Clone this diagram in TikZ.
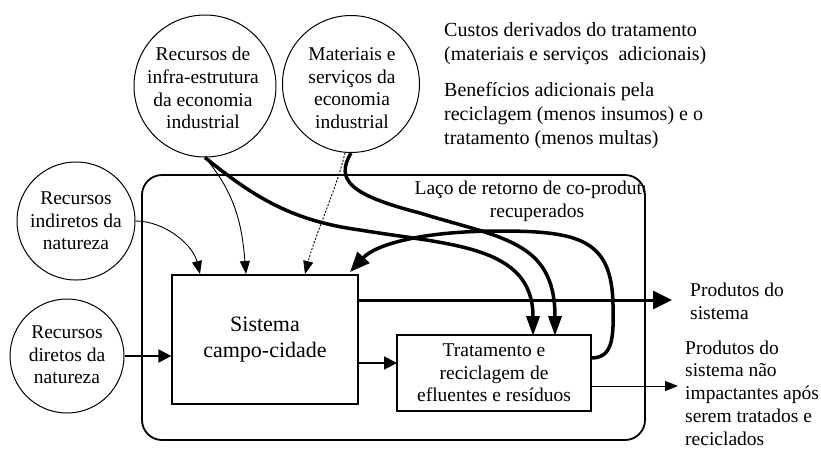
\documentclass[tikz,border=0pt]{standalone}
\usepackage{fontspec}
\setmainfont{Liberation Serif}
\usetikzlibrary{arrows.meta}
\begin{document}
\begin{tikzpicture}[x=1pt,y=-1pt,
  txt/.style={font=\fontsize{19.5}{22.7}\selectfont, inner sep=0pt, align=center},
  ltxt/.style={font=\fontsize{19.5}{22.7}\selectfont, inner sep=0pt, align=left, anchor=west},
  rtxt/.style={font=\fontsize{20}{24}\selectfont, inner sep=0pt, align=left, anchor=west},
  res/.style={draw, circle, line width=1pt, inner sep=0pt},
  box/.style={draw, line width=1.2pt, inner sep=0pt, align=center},
  thickflow/.style={line width=3.5pt, -{Triangle[length=20pt,width=13pt]}},
  loopflow/.style={line width=3.5pt, -{Triangle[length=20pt,width=16pt]}},
  prodflow/.style={line width=3pt, -{Triangle[length=19pt,width=18pt]}},
  medflow/.style={line width=2pt, -{Triangle[length=13pt,width=13pt]}},
  thinflow/.style={line width=0.9pt, -{Triangle[length=13pt,width=10pt]}},
  dotflow/.style={line width=0.9pt, dash pattern=on 2pt off 1.6pt, -{Triangle[length=13pt,width=10pt]}},
]
\useasboundingbox (0,0) rectangle (821,453);

% outer system boundary
\node[draw, rounded corners=20pt, line width=1.8pt, minimum width=503pt, minimum height=265pt, inner sep=0pt] (bound) at (393.5,307.5) {};

% boxes
\node[box, minimum width=186pt, minimum height=129pt, font=\fontsize{22}{26}\selectfont] (sc) at (265,339.5) {Sistema\\campo-cidade};
\node[box, minimum width=194pt, minimum height=76pt, font=\fontsize{19.5}{22.5}\selectfont] (trat) at (494,373) {Tratamento e\\reciclagem de\\efluentes e resíduos};

% resource circles
\node[res, minimum size=142pt] (infra) at (205,86) {};
\node[txt] (infraT) at (203,88) {Recursos de\\infra-estrutura\\da economia\\industrial};
\node[res, minimum size=137pt] (mat) at (351,84) {};
\node[txt] (matT) at (352,88) {Materiais e\\serviços da\\economia\\industrial};
\node[res, minimum size=118pt] (ind) at (76,221) {};
\node[txt] (indT) at (76,221) {Recursos\\indiretos da\\natureza};
\node[res, minimum size=114pt] (dir) at (67,356) {};
\node[txt] (dirT) at (67,355) {Recursos\\diretos da\\natureza};

% texts
\begin{scope}
\clip (0,0) rectangle (644,453);
\node[txt] (laco) at (537,201.5) {Laço de retorno de co-produtos\\recuperados};
\end{scope}
\node[rtxt] (custos) at (444,43.5) {Custos derivados do tratamento\\(materiais e serviços\ \ adicionais)};
\node[rtxt] (benef) at (444,115.5) {Benefícios adicionais pela\\reciclagem (menos insumos) e o\\tratamento (menos multas)};
\node[ltxt] (prod1) at (690,301.5) {Produtos do\\sistema};
\node[ltxt] (prod2) at (685,393) {Produtos do\\sistema não\\impactantes após\\serem tratados e\\reciclados};

% connector end points
\coordinate (a1) at (200,274);
\coordinate (a2) at (246,274);
\coordinate (a3) at (305,274);
\coordinate (a4) at (350,272);
\coordinate (b1) at (533,336);
\coordinate (b2) at (555,336);
\coordinate (l0) at (591,358);
\coordinate (p1) at (672,300);
\coordinate (m1) at (397,363);
\coordinate (o1) at (678,386);

% thin inputs
\draw[medflow] (dir.east) -- (dir.east -| sc.west);
\draw[thinflow] (ind.east) .. controls (165,221) and (193,245) .. (a1);
\draw[thinflow] (infra.south) .. controls (236,194) and (242,226) .. (a2);
\draw[dotflow] (mat.265) .. controls (338,185) and (315,235) .. (a3);

% thick flows to treatment
\draw[thickflow] (infra.south) .. controls (256,199) and (294,221) .. (360,230)
  .. controls (450,245) and (533,245) .. (b1);
\draw[thickflow] (mat.south) .. controls (335,180) and (350,195) .. (420,213)
  .. controls (500,238) and (555,240) .. (b2);

% return loop
\draw[loopflow] (l0) .. controls (612,358) and (614,340) .. (613,305)
  .. controls (612,240) and (580,231) .. (500,231)
  .. controls (420,231) and (375,245) .. (a4);

% outputs
\draw[prodflow] (sc.east |- p1) -- (p1);
\draw[medflow] (sc.east |- m1) -- (m1);
\draw[thinflow] (trat.east |- o1) -- (o1);
\end{tikzpicture}
\end{document}
